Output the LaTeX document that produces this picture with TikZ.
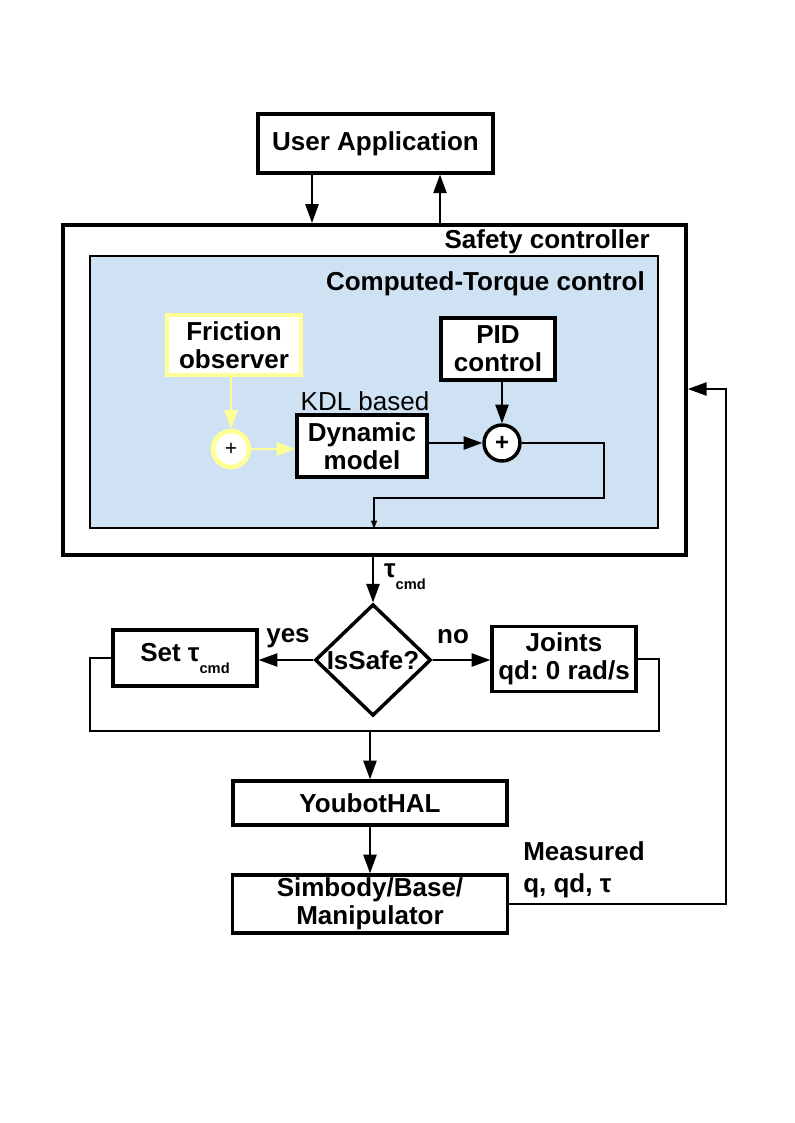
\documentclass[tikz,border=0pt]{standalone}
\usepackage{fontspec}
\setmainfont{Liberation Sans}
\usetikzlibrary{arrows.meta,shapes.geometric}
\definecolor{ctcblue}{RGB}{207,226,243}
\definecolor{fyellow}{RGB}{255,255,150}
\newcommand{\cmdsub}{\raisebox{-9pt}{\fontsize{11}{12}\selectfont cmd}}
\frenchspacing

\begin{document}
\begin{tikzpicture}[x=0.75pt,y=-0.75pt,
    font=\fontsize{19.5}{21}\selectfont,
    blk/.style={draw,line width=2.6pt,fill=white,align=center,font=\fontsize{19.5}{21}\selectfont\bfseries,inner sep=0pt},
    arr/.style={line width=1.1pt,-{Triangle[length=14pt,width=10pt]}},
    lbl/.style={font=\fontsize{19.5}{21}\selectfont\bfseries,inner sep=0pt}]
    \useasboundingbox (0,0) rectangle (794,1123);

    \node[blk,minimum width=176pt,minimum height=44pt] (userapp) at (375.5,143.5) {User Application};
    \node[draw,line width=3.2pt,minimum width=467pt,minimum height=247.5pt] (safety) at (374.5,390) {};
    \node[draw,line width=0.8pt,fill=ctcblue,minimum width=426pt,minimum height=204pt] (ctc) at (374,392) {};
    \node[lbl,anchor=east] (safetylbl) at (650,242) {Safety controller};
    \node[lbl,anchor=east] (ctclbl) at (645,284) {Computed-Torque control};

    \node[blk,draw=fyellow,line width=3pt,minimum width=100.5pt,minimum height=45pt] (friction) at (234,345) {Friction\\observer};
    \node[blk,circle,draw=fyellow,line width=3.5pt,minimum size=27pt,font=\fontsize{16}{16}\selectfont] (fsum) at (231,449) {+};
    \node[inner sep=0pt] (kdl) at (365,401) {KDL based};
    \node[blk,minimum width=97.5pt,minimum height=46.5pt] (dynmodel) at (362,446) {Dynamic\\model};
    \node[blk,minimum width=85.5pt,minimum height=46.5pt] (pid) at (498,349) {PID\\control};
    \node[blk,circle,minimum size=27pt,font=\fontsize{18}{18}\selectfont\bfseries] (sum) at (502,443) {+};

    \draw[line width=1.6pt,draw=fyellow,-{Triangle[length=14pt,width=10pt,fill=fyellow]}] (friction.south -| fsum) -- (fsum);
    \draw[line width=1.6pt,draw=fyellow,-{Triangle[length=14pt,width=10pt,fill=fyellow]}] (fsum) -- (dynmodel.west |- fsum);
    \draw[arr] (pid.south -| sum) -- (sum);
    \draw[arr] (dynmodel.east |- sum) -- (sum);
    \draw[line width=1pt,-{Triangle[length=6pt,width=4.5pt]}] (sum.east) -| (604,498) -| (ctc.south);

    \draw[arr] (312,0 |- userapp.south) -- (312,0 |- safety.north);
    \draw[arr] (440,0 |- safety.north) -- (440,0 |- userapp.south);

    \node[blk,diamond,minimum width=87pt,minimum height=82.5pt] (issafe) at (373,660) {IsSafe?};
    \node[lbl] (tau) at (405,577) {τ\cmdsub};
    \draw[arr] (safety.south -| issafe.north) -- (issafe.north);

    \node[blk,minimum width=108pt,minimum height=42pt] (settau) at (185,658) {Set τ\cmdsub};
    \node[blk,minimum width=108pt,minimum height=48.75pt] (joints) at (564,659) {Joints\\qd: 0 rad/s};
    \draw[arr] (issafe.west) -- (settau.east |- issafe.west);
    \draw[arr] (issafe.east) -- (joints.west |- issafe.east);
    \node[lbl] (yes) at (288,638) {yes};
    \node[lbl] (no) at (453,637) {no};

    \node[blk,minimum width=205.5pt,minimum height=33pt] (youbot) at (370,803) {YoubotHAL};
    \node[blk,minimum width=206pt,minimum height=43.5pt] (simbody) at (370,904) {Simbody/Base/\\Manipulator};
    \draw[line width=1pt] (settau.west) -- (90,0 |- settau.west) |- (659,731) |- (joints.east);
    \draw[arr] (youbot.north |- 0,731) -- (youbot.north);
    \draw[arr] (youbot) -- (simbody);

    \node[lbl,anchor=west,align=left] (measured) at (523,870) {Measured\\[3pt]q, qd, τ};
    \draw[arr] (simbody.east) -| (726,389) -- (safety.east |- 0,389);
\end{tikzpicture}
\end{document}
